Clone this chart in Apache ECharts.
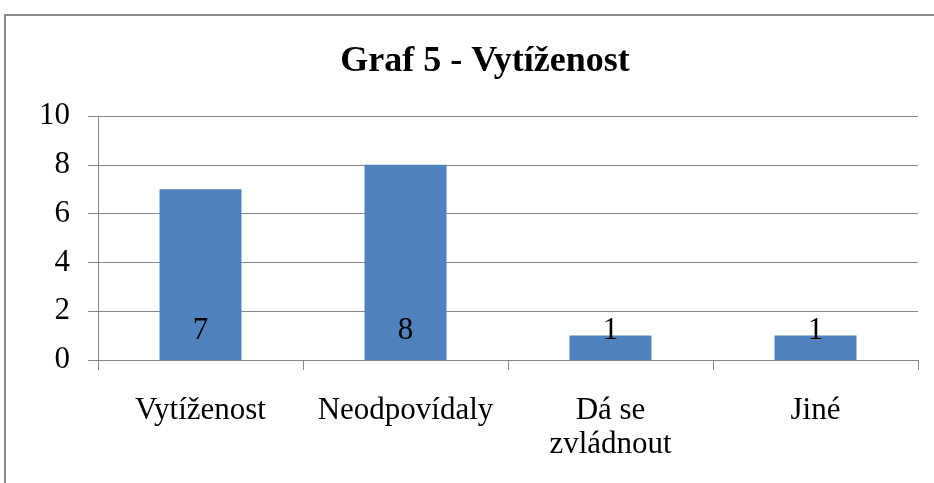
<!DOCTYPE html>
<html><head><meta charset="utf-8">
<script src="https://cdn.jsdelivr.net/npm/echarts@6/dist/echarts.min.js"></script>
<style>html,body{margin:0;padding:0;background:#fff}#c{width:934px;height:483px}</style>
</head><body><div id="c"></div>
<script>
const titleText = 'Graf 5 - Vytíženost';
const categories = ['Vytíženost', 'Neodpovídaly', 'Dá se\nzvládnout', 'Jiné'];
const values = [7, 8, 1, 1];
const yTicks = {min: 0, max: 10, interval: 2};

const font = 'Liberation Serif, Times New Roman, serif';
const chart = echarts.init(document.getElementById('c'));
chart.setOption({
  animation: false,
  backgroundColor: '#fff',
  graphic: [{type: 'rect', shape: {x: 5, y: 15, width: 1000, height: 600},
    style: {fill: 'none', stroke: '#8a8a8a', lineWidth: 2}, silent: true}],
  title: {text: titleText, left: 480, textAlign: 'center', top: 39,
    textStyle: {fontFamily: font, fontSize: 36, fontWeight: 'bold', color: '#000'}},
  grid: {left: 98, right: 16, top: 116, bottom: 123},
  xAxis: {type: 'category', data: categories,
    axisLine: {lineStyle: {color: '#868686', width: 1}},
    axisTick: {show: true, length: 10, lineStyle: {color: '#868686'}},
    axisLabel: {interval: 0, margin: 34, fontFamily: font, fontSize: 31, color: '#000', lineHeight: 34}},
  yAxis: {type: 'value', min: yTicks.min, max: yTicks.max, interval: yTicks.interval,
    axisLine: {show: true, lineStyle: {color: '#868686'}},
    axisTick: {show: true, length: 10, lineStyle: {color: '#868686'}},
    splitLine: {lineStyle: {color: '#868686'}},
    axisLabel: {margin: 28, fontFamily: font, fontSize: 31, color: '#000'}},
  series: [{type: 'bar', data: values, barWidth: '40%',
    itemStyle: {color: '#4F81BD'},
    label: {show: true, position: 'insideBottom', distance: 14,
      fontFamily: font, fontSize: 31, color: '#000'}}]
});
</script></body></html>
